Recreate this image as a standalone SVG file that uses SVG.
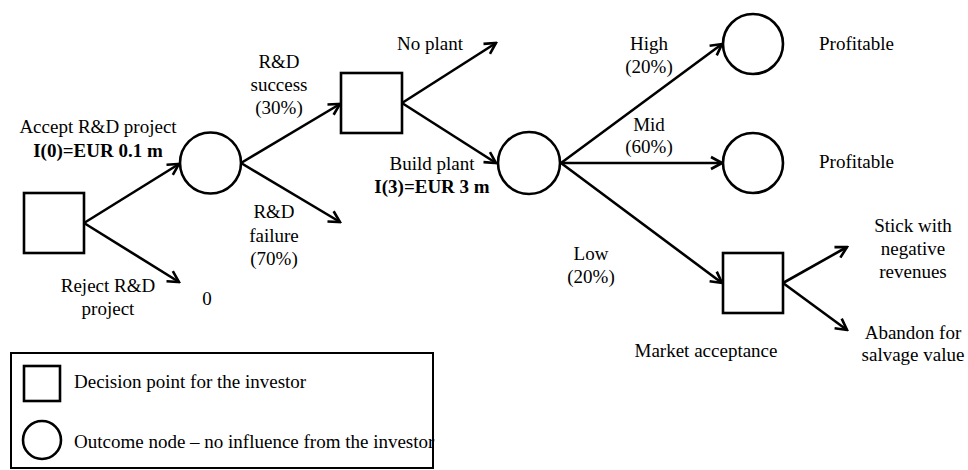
<svg xmlns="http://www.w3.org/2000/svg" width="968" height="470" viewBox="0 0 968 470">
  <style>
    .node { fill: #ffffff; stroke: #000000; stroke-width: 2.6; }
    .edge { fill: none; stroke: #000000; stroke-width: 2.6; marker-end: url(#arrow); }
    text { font-family: "Liberation Serif", "Times New Roman", serif; font-size: 19px; fill: #000000; }
    .c { text-anchor: middle; }
    .b { font-weight: bold; }
    .legend-box { fill: #ffffff; stroke: #000000; stroke-width: 2; }
  </style>
  <defs>
    <marker id="arrow" markerUnits="userSpaceOnUse" markerWidth="16" markerHeight="16" viewBox="-14 -8 16 16" refX="0" refY="0" orient="auto">
      <path d="M-11,-6 L0,0 L-11,6" fill="none" stroke="#000000" stroke-width="2.6" stroke-linejoin="miter"/>
    </marker>
  </defs>

  <!-- connectors -->
  <g id="connectors">
    <line class="edge" x1="84" y1="223" x2="179" y2="164"/>
    <line class="edge" x1="84" y1="223" x2="179" y2="282"/>
    <line class="edge" x1="241" y1="163" x2="340" y2="104"/>
    <line class="edge" x1="241" y1="163" x2="340" y2="222"/>
    <line class="edge" x1="402" y1="103" x2="496" y2="43"/>
    <line class="edge" x1="402" y1="103" x2="496" y2="163"/>
    <line class="edge" x1="561" y1="163" x2="722" y2="44"/>
    <line class="edge" x1="561" y1="163" x2="722" y2="163"/>
    <line class="edge" x1="561" y1="163" x2="722" y2="283"/>
    <line class="edge" x1="783" y1="283" x2="847" y2="247"/>
    <line class="edge" x1="783" y1="283" x2="847" y2="330"/>
  </g>

  <!-- nodes -->
  <g id="decision-start">
    <rect class="node" x="24" y="193" width="60" height="60"/>
  </g>
  <g id="outcome-rd">
    <circle class="node" cx="210.5" cy="163" r="30.5"/>
  </g>
  <g id="decision-plant">
    <rect class="node" x="341" y="73" width="61" height="60"/>
  </g>
  <g id="outcome-market">
    <circle class="node" cx="529" cy="163" r="31"/>
  </g>
  <g id="outcome-high">
    <circle class="node" cx="753" cy="44" r="30"/>
  </g>
  <g id="outcome-mid">
    <circle class="node" cx="753" cy="163" r="30"/>
  </g>
  <g id="decision-low">
    <rect class="node" x="723" y="253" width="60" height="60"/>
  </g>

  <!-- labels -->
  <g id="labels">
    <text class="c" x="98" y="133">Accept R&amp;D project</text>
    <text class="c b" x="98" y="157">I(0)=EUR 0.1 m</text>
    <text class="c" x="108" y="292">Reject R&amp;D</text>
    <text class="c" x="108" y="315">project</text>
    <text class="c" x="207" y="305">0</text>

    <text class="c" x="279" y="68">R&amp;D</text>
    <text class="c" x="279" y="91">success</text>
    <text class="c" x="279" y="114">(30%)</text>

    <text class="c" x="274" y="218">R&amp;D</text>
    <text class="c" x="274" y="242">failure</text>
    <text class="c" x="274" y="265">(70%)</text>

    <text class="c" x="430" y="50">No plant</text>
    <text class="c" x="432" y="170">Build plant</text>
    <text class="c b" x="432" y="193">I(3)=EUR 3 m</text>

    <text class="c" x="649" y="50">High</text>
    <text class="c" x="649" y="73">(20%)</text>
    <text class="c" x="649" y="131">Mid</text>
    <text class="c" x="649" y="153">(60%)</text>
    <text class="c" x="591" y="260">Low</text>
    <text class="c" x="591" y="283">(20%)</text>

    <text x="819" y="50">Profitable</text>
    <text x="819" y="168">Profitable</text>

    <text class="c" x="913" y="232">Stick with</text>
    <text class="c" x="913" y="255">negative</text>
    <text class="c" x="913" y="278">revenues</text>
    <text class="c" x="913" y="339">Abandon for</text>
    <text class="c" x="913" y="361">salvage value</text>

    <text class="c" x="706" y="357">Market acceptance</text>
  </g>

  <!-- legend -->
  <g id="legend">
    <rect class="legend-box" x="11" y="353" width="422" height="115"/>
    <rect class="node" x="24" y="366" width="36" height="35"/>
    <text x="74" y="388">Decision point for the investor</text>
    <circle class="node" cx="42" cy="440" r="19"/>
    <text x="74" y="448">Outcome node – no influence from the investor</text>
  </g>
</svg>
